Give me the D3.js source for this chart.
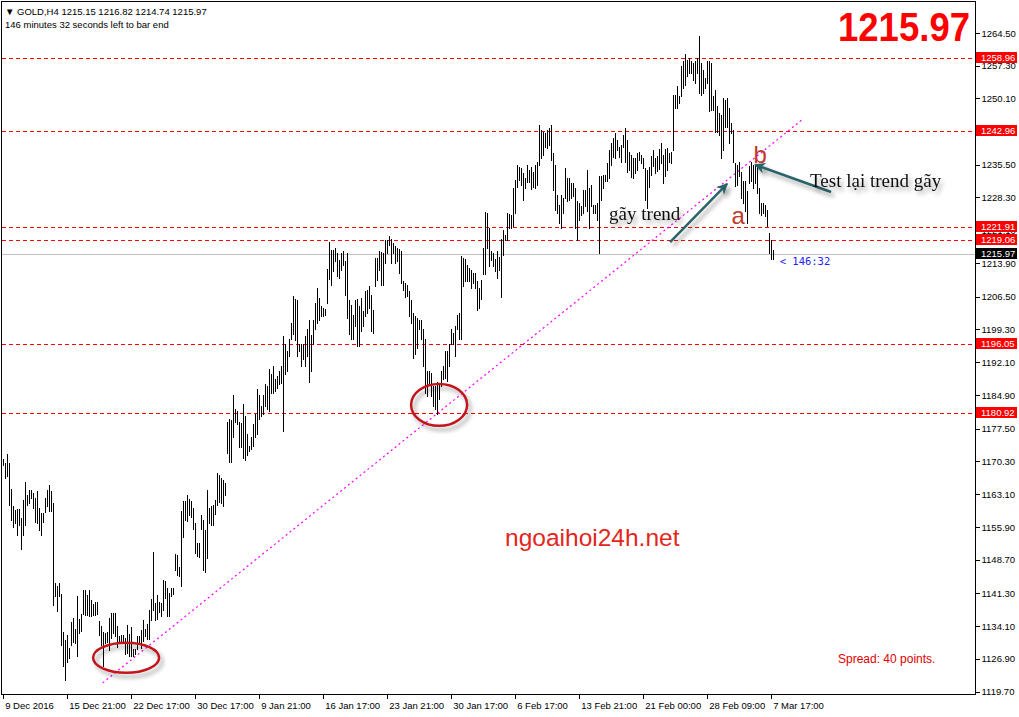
<!DOCTYPE html>
<html>
<head>
<meta charset="utf-8">
<script src="https://cdn.jsdelivr.net/npm/d3@7"></script>
<style>
  body { margin: 0; background: #fff; }
  svg { display: block; }
  .ax text, .hdr { font-family: "Liberation Sans", Arial, sans-serif; font-size: 9.5px; fill: #000; }
  .note { font-family: "Liberation Serif", "Times New Roman", serif; font-size: 19px; fill: #111; }
</style>
</head>
<body>
<svg width="1019" height="717"></svg>
<script>
// GOLD H4, high / low of every bar (oldest first)
var highs = [
  1170.7,1169.9,1171.8,1169.9,1164.2,1160.4,1159.7,1159.8,1159.8,1157.9,
  1161.9,1165.7,1162.8,1164.1,1164.1,1163.4,1162.3,1163.7,1160.1,1159.0,
  1159.0,1162.3,1163.9,1165.0,1163.7,1161.2,1143.5,1143.0,1143.5,1141.2,
  1132.8,1131.1,1132.2,1129.2,1134.9,1135.8,1133.5,1140.8,1135.7,1136.8,
  1142.1,1142.1,1141.0,1142.1,1139.8,1139.0,1139.4,1139.4,1135.2,1134.1,
  1132.8,1132.6,1132.8,1135.8,1136.9,1136.9,1136.9,1134.1,1131.9,1132.1,
  1132.2,1131.5,1134.3,1132.4,1133.9,1129.1,1129.1,1132.0,1132.0,1133.3,
  1135.5,1133.5,1134.6,1137.7,1140.1,1150.3,1139.2,1141.0,1139.4,1139.2,
  1144.3,1144.0,1142.5,1141.4,1142.5,1142.5,1149.9,1149.6,1147.0,1159.3,
  1161.5,1161.5,1163.0,1162.0,1161.5,1160.1,1156.8,1152.4,1152.4,1158.6,
  1157.5,1155.3,1163.9,1160.1,1160.4,1160.8,1161.9,1167.7,1167.4,1166.6,
  1166.3,1165.5,1178.9,1179.6,1179.3,1184.9,1181.7,1181.3,1178.9,1178.7,
  1182.8,1180.2,1176.2,1173.6,1175.7,1178.4,1180.6,1186.1,1184.9,1182.4,
  1184.9,1187.4,1186.8,1190.5,1189.4,1191.2,1188.3,1189.0,1190.1,1191.2,
  1197.9,1196.0,1194.5,1197.1,1200.7,1206.7,1206.0,1205.8,1196.0,1196.0,
  1196.0,1197.9,1199.3,1201.4,1198.1,1201.4,1205.1,1208.4,1206.2,1204.5,
  1204.0,1203.8,1212.6,1218.6,1216.8,1216.7,1217.2,1216.2,1214.6,1216.1,
  1216.5,1214.3,1216.1,1205.8,1204.7,1202.5,1205.8,1206.0,1204.4,1206.2,
  1203.3,1207.7,1208.0,1208.8,1206.9,1203.6,1215.0,1215.0,1216.5,1216.3,
  1216.1,1218.9,1219.0,1219.9,1219.2,1218.4,1217.6,1217.2,1217.0,1216.5,
  1209.9,1209.5,1209.1,1207.7,1205.8,1202.9,1202.2,1201.8,1201.4,1201.4,
  1199.3,1197.1,1190.1,1190.1,1189.7,1186.8,1186.8,1187.7,1187.5,1190.1,
  1191.2,1194.5,1194.5,1196.0,1199.3,1198.5,1200.0,1202.5,1202.9,1215.4,
  1215.0,1214.8,1213.5,1212.8,1212.4,1211.7,1211.7,1209.9,1208.5,1210.2,
  1217.2,1225.2,1224.9,1221.6,1216.5,1216.0,1214.8,1216.5,1215.2,1219.2,
  1221.2,1220.1,1224.9,1224.7,1224.5,1230.4,1232.2,1235.5,1235.1,1234.8,
  1233.7,1232.6,1235.5,1234.4,1235.1,1234.0,1235.5,1236.2,1244.3,1243.2,
  1242.8,1242.5,1243.2,1243.6,1244.3,1238.1,1235.5,1228.9,1226.7,1228.9,
  1228.2,1234.8,1232.6,1232.6,1231.5,1231.5,1230.4,1227.5,1227.1,1226.4,
  1230.0,1230.0,1234.4,1230.4,1231.1,1226.7,1226.7,1227.1,1233.1,1233.0,
  1233.3,1233.3,1235.9,1238.8,1240.3,1241.4,1242.5,1241.0,1239.5,1239.9,
  1242.1,1243.6,1241.0,1238.4,1237.7,1237.0,1237.0,1238.1,1238.4,1237.7,
  1237.0,1234.8,1234.4,1235.0,1237.5,1238.8,1237.0,1237.5,1239.0,1240.3,
  1237.7,1239.0,1239.2,1238.1,1238.4,1250.9,1250.9,1252.7,1250.5,1257.1,
  1258.2,1259.9,1258.6,1258.9,1258.2,1257.8,1258.2,1258.9,1263.7,1257.8,
  1256.4,1254.5,1258.2,1258.2,1257.8,1250.5,1252.0,1248.3,1246.9,1246.5,
  1250.2,1249.8,1250.2,1248.0,1244.7,1243.2,1235.9,1235.5,1236.2,1234.0,
  1231.9,1231.9,1229.7,1235.2,1236.2,1235.5,1235.2,1235.5,1230.4,1227.1,
  1227.1,1226.7,1225.6,1220.5,1219.0,1216.82
];
var lows = [
  1169.4,1166.6,1167.0,1160.8,1157.5,1155.9,1156.8,1154.1,1156.4,1151.1,
  1154.1,1156.4,1160.8,1161.2,1162.3,1160.1,1156.9,1156.8,1155.2,1154.2,
  1156.9,1159.1,1160.4,1159.3,1159.3,1138.7,1140.7,1137.4,1140.7,1129.9,
  1125.4,1122.3,1126.2,1127.1,1129.9,1130.6,1130.4,1127.5,1132.6,1133.0,
  1136.8,1136.6,1136.6,1136.3,1136.4,1136.5,1136.6,1136.8,1132.2,1129.9,
  1125.3,1130.3,1130.6,1128.9,1131.4,1132.6,1131.9,1129.5,1130.4,1130.8,
  1130.4,1128.0,1128.2,1127.5,1127.5,1127.5,1128.0,1129.1,1130.4,1129.3,
  1130.8,1131.9,1131.3,1131.3,1135.5,1137.6,1135.5,1135.7,1137.1,1136.3,
  1137.7,1140.3,1136.4,1136.4,1140.7,1141.2,1146.5,1145.4,1145.0,1143.0,
  1153.7,1157.5,1157.1,1158.6,1158.1,1155.5,1150.2,1149.5,1149.3,1155.5,
  1146.4,1145.9,1149.1,1156.8,1156.4,1156.2,1158.8,1160.6,1161.4,1161.2,
  1160.4,1162.8,1172.1,1170.1,1170.1,1175.7,1178.9,1178.4,1173.5,1173.5,
  1171.0,1170.5,1171.6,1172.5,1172.9,1173.6,1175.7,1176.4,1179.6,1180.2,
  1180.6,1182.4,1181.8,1181.3,1185.3,1185.3,1185.7,1186.4,1187.2,1187.5,
  1176.9,1189.4,1190.1,1193.4,1197.1,1198.2,1196.9,1193.4,1194.5,1191.2,
  1192.7,1191.3,1193.4,1187.7,1190.1,1196.0,1199.3,1200.7,1201.4,1202.2,
  1202.2,1202.5,1205.1,1210.4,1209.1,1212.1,1214.3,1211.0,1210.6,1212.3,
  1213.5,1206.9,1201.8,1198.2,1197.1,1197.1,1200.0,1195.7,1195.7,1198.9,
  1200.0,1202.2,1202.8,1204.0,1198.9,1198.5,1208.9,1210.2,1212.4,1209.1,
  1209.1,1213.9,1216.1,1217.9,1213.9,1216.1,1213.9,1214.3,1211.7,1209.5,
  1208.0,1206.4,1206.6,1202.2,1200.7,1193.0,1193.8,1195.2,1199.3,1197.1,
  1191.2,1185.3,1184.6,1187.5,1184.6,1182.4,1181.7,1180.8,1183.9,1186.8,
  1188.3,1188.6,1187.9,1191.2,1196.0,1196.0,1193.4,1199.3,1197.1,1197.1,
  1208.8,1209.9,1209.9,1209.9,1208.4,1209.5,1208.4,1203.5,1204.0,1205.9,
  1211.4,1211.4,1217.2,1213.2,1214.6,1213.2,1212.1,1210.5,1212.4,1206.4,
  1215.7,1219.0,1219.0,1221.6,1221.6,1222.0,1224.9,1230.7,1232.2,1231.1,
  1227.8,1230.4,1231.6,1231.6,1230.2,1230.7,1230.4,1231.1,1235.5,1237.0,
  1237.7,1239.5,1239.2,1239.9,1236.6,1230.0,1225.6,1224.9,1222.7,1221.6,
  1224.9,1228.2,1227.5,1227.8,1228.2,1228.6,1221.6,1219.0,1223.4,1224.5,
  1224.9,1226.4,1225.3,1221.6,1226.4,1224.9,1224.9,1223.4,1216.1,1227.8,
  1230.4,1231.9,1231.9,1232.6,1235.5,1237.3,1237.0,1238.8,1237.3,1236.2,
  1239.5,1236.2,1234.0,1234.4,1232.9,1232.6,1233.7,1234.4,1236.6,1235.9,
  1234.8,1227.8,1226.0,1230.5,1233.3,1235.2,1233.7,1234.1,1234.6,1235.9,
  1231.5,1233.0,1234.4,1236.2,1235.9,1238.8,1248.0,1248.0,1249.1,1250.5,
  1252.4,1253.1,1254.9,1255.6,1255.6,1254.2,1253.4,1255.6,1251.3,1250.9,
  1251.3,1252.4,1253.4,1247.2,1247.6,1247.6,1242.8,1242.8,1242.1,1237.0,
  1238.8,1243.9,1243.9,1240.3,1242.5,1236.2,1230.8,1231.1,1233.0,1228.2,
  1227.1,1225.3,1222.7,1231.5,1231.9,1230.4,1231.5,1229.3,1224.9,1224.5,
  1224.9,1224.2,1222.0,1216.1,1214.7,1214.74
];
var lastBar = { open: 1215.15, high: 1216.82, low: 1214.74, close: 1215.97 };

var priceTicks = [1264.50,1257.30,1250.10,1242.90,1235.50,1228.30,1221.10,1213.90,1206.50,
                  1199.30,1192.10,1184.90,1177.50,1170.30,1163.10,1155.90,1148.70,1141.30,
                  1134.10,1126.90,1119.70];
var timeTickBars = [0,32,64,96,128,160,192,224,256,288,320,352,384];
var timeTickLabels = ["9 Dec 2016","15 Dec 21:00","22 Dec 17:00","30 Dec 17:00","9 Jan 21:00",
                      "16 Jan 17:00","23 Jan 21:00","30 Jan 17:00","6 Feb 17:00","13 Feb 21:00",
                      "21 Feb 00:00","28 Feb 09:00","7 Mar 17:00"];
var levels = [1258.96, 1242.96, 1221.91, 1219.06, 1196.05, 1180.92];

// drawn objects, anchored as [bar index, price]
var trendLine = [[50, 1121.6], [400, 1245.5]];
var circles = [{ bar: 61.7, price: 1127.1, halfBars: 16.5, halfPrice: 3.3 },
               { bar: 218.2, price: 1182.7, halfBars: 14, halfPrice: 4.6 }];
var arrows = [[[333.7, 1218.5], [362.2, 1231.3]],
              [[414.2, 1229.5], [376.2, 1235.5]]];

var n = Math.min(highs.length, lows.length);

var svg = d3.select("svg"),
    plotR = 975.5, plotB = 694.5;

var x = d3.scaleLinear().domain([0, 385]).range([2.7, 772.7]);
var y = d3.scaleLinear().domain([1119.7, 1264.5]).range([691.5, 32.8]);

var defs = svg.append("defs");
var sh = defs.append("filter").attr("id", "shadow")
    .attr("x", "-30%").attr("y", "-30%").attr("width", "160%").attr("height", "160%");
sh.append("feGaussianBlur").attr("in", "SourceAlpha").attr("stdDeviation", 2.2).attr("result", "b");
sh.append("feOffset").attr("in", "b").attr("dx", 3).attr("dy", 4).attr("result", "o");
sh.append("feComponentTransfer").attr("in", "o").attr("result", "s")
  .append("feFuncA").attr("type", "linear").attr("slope", 0.35);
var mg = sh.append("feMerge");
mg.append("feMergeNode").attr("in", "s");
mg.append("feMergeNode").attr("in", "SourceGraphic");

defs.append("marker").attr("id", "head")
    .attr("viewBox", "0 0 10 10").attr("refX", 9).attr("refY", 5)
    .attr("markerWidth", 4.5).attr("markerHeight", 4.5).attr("orient", "auto")
  .append("path").attr("d", "M0,0 L10,5 L0,10 L3,5 Z").attr("fill", "#2c6467");

var g = svg.append("g");

// horizontal levels
g.selectAll(".lvl").data(levels).enter().append("line")
  .attr("x1", 2).attr("x2", plotR)
  .attr("y1", function(d) { return Math.round(y(d)) + 0.5; })
  .attr("y2", function(d) { return Math.round(y(d)) + 0.5; })
  .attr("stroke", "#ff0000").attr("stroke-dasharray", "4,3");

// bid line
g.append("line")
  .attr("x1", 2).attr("x2", plotR)
  .attr("y1", Math.round(y(lastBar.close)) + 0.5).attr("y2", Math.round(y(lastBar.close)) + 0.5)
  .attr("stroke", "#c0c0c0");

// trend line
g.append("line")
  .attr("x1", x(trendLine[0][0])).attr("y1", y(trendLine[0][1]))
  .attr("x2", x(trendLine[1][0])).attr("y2", y(trendLine[1][1]))
  .attr("stroke", "#ff00ff").attr("stroke-width", 1.2).attr("stroke-dasharray", "2,3");

// bars
g.selectAll(".bar").data(d3.range(n)).enter().append("line")
  .attr("class", "bar")
  .attr("x1", function(i) { return Math.round(x(i)) + 0.5; })
  .attr("x2", function(i) { return Math.round(x(i)) + 0.5; })
  .attr("y1", function(i) { return Math.round(y(highs[i])); })
  .attr("y2", function(i) { return Math.round(y(lows[i])) + 1; })
  .attr("stroke", "#000").attr("stroke-width", 1).attr("shape-rendering", "crispEdges");

// ellipses
g.selectAll(".circ").data(circles).enter().append("ellipse")
  .attr("cx", function(d) { return x(d.bar); })
  .attr("cy", function(d) { return y(d.price); })
  .attr("rx", function(d) { return x(d.bar + d.halfBars) - x(d.bar); })
  .attr("ry", function(d) { return y(d.price - d.halfPrice) - y(d.price); })
  .attr("fill", "none").attr("stroke", "#c0141c").attr("stroke-width", 2.5)
  .attr("filter", "url(#shadow)");

// arrows
g.selectAll(".arr").data(arrows).enter().append("line")
  .attr("x1", function(d) { return x(d[0][0]); }).attr("y1", function(d) { return y(d[0][1]); })
  .attr("x2", function(d) { return x(d[1][0]); }).attr("y2", function(d) { return y(d[1][1]); })
  .attr("stroke", "#2c6467").attr("stroke-width", 2.5)
  .attr("marker-end", "url(#head)").attr("filter", "url(#shadow)");

// notes
g.append("text").attr("class", "note").attr("filter", "url(#shadow)")
  .attr("x", x(303.2)).attr("y", y(1223.3)).text("gãy trend");
g.append("text").attr("class", "note").attr("filter", "url(#shadow)")
  .attr("x", x(403.7)).attr("y", y(1230.6)).text("Test lại trend gãy");
g.append("text").attr("x", x(367.7)).attr("y", y(1222.5)).attr("text-anchor", "middle")
  .style("font", "24px 'Liberation Sans', Arial, sans-serif").attr("fill", "#c0392b").text("a");
g.append("text").attr("x", x(378.7)).attr("y", y(1235.8)).attr("text-anchor", "middle")
  .style("font", "24px 'Liberation Sans', Arial, sans-serif").attr("fill", "#c0392b").text("b");
g.append("text").attr("x", x(251.2)).attr("y", y(1151.7))
  .style("font", "24.5px 'Liberation Sans', Arial, sans-serif").attr("fill", "#e3261c").text("ngoaihoi24h.net");

// countdown next to last bar
g.append("text").attr("x", x(n - 1) + 7).attr("y", y(lastBar.close) + 11)
  .style("font", "10.5px 'DejaVu Sans Mono', monospace").attr("fill", "#2222ff").text("< 146:32");

// frame
svg.append("path")
  .attr("d", "M1.5,1.5 H" + plotR + " V" + plotB + " H1.5 Z")
  .attr("fill", "none").attr("stroke", "#000").attr("shape-rendering", "crispEdges");

// price axis
var ya = svg.append("g").attr("class", "ax").attr("transform", "translate(" + plotR + ",0)")
  .call(d3.axisRight(y).tickValues(priceTicks).tickSize(4).tickPadding(2)
        .tickFormat(d3.format(".2f")));
ya.select(".domain").remove();
ya.selectAll("line").attr("shape-rendering", "crispEdges");
ya.selectAll("text").attr("dy", "0.34em");

// time axis
var xa = svg.append("g").attr("class", "ax").attr("transform", "translate(0," + plotB + ")")
  .call(d3.axisBottom(x).tickValues(timeTickBars).tickSize(4)
        .tickFormat(function(d, i) { return timeTickLabels[i]; }));
xa.select(".domain").remove();
xa.selectAll("line").attr("shape-rendering", "crispEdges");
xa.selectAll("text").attr("text-anchor", "start").attr("x", 2).attr("y", 8).attr("dy", "0.71em");

// level tags on price axis
var tags = levels.map(function(v) { return { v: v, bg: "#ff0000" }; })
  .concat([{ v: lastBar.close, bg: "#000" }]);
var tg = svg.selectAll(".tag").data(tags).enter().append("g")
  .attr("transform", function(d) { return "translate(976," + Math.round(y(d.v)) + ")"; });
tg.append("rect").attr("x", 0).attr("y", -6).attr("width", 41).attr("height", 11)
  .attr("fill", function(d) { return d.bg; });
tg.append("text").attr("x", 5).attr("y", 3)
  .style("font", "9.5px 'Liberation Sans', Arial, sans-serif").attr("fill", "#fff")
  .text(function(d) { return d3.format(".2f")(d.v); });

// header
svg.append("text").attr("class", "hdr").attr("x", 5).attr("y", 15)
  .text("\u25BC GOLD,H4  " + [lastBar.open, lastBar.high, lastBar.low, lastBar.close]
        .map(d3.format(".2f")).join(" "));
svg.append("text").attr("class", "hdr").attr("x", 5).attr("y", 28)
  .text("146 minutes 32 seconds left to bar end");

// big price
svg.append("text").attr("x", 970).attr("y", 41).attr("text-anchor", "end")
  .attr("textLength", 132).attr("lengthAdjust", "spacingAndGlyphs")
  .style("font", "bold 40px 'Liberation Sans', Arial, sans-serif").attr("fill", "#ff0000")
  .text(d3.format(".2f")(lastBar.close));

// spread
svg.append("text").attr("x", 838).attr("y", 663)
  .style("font", "12px 'Liberation Sans', Arial, sans-serif").attr("fill", "#e00000")
  .text("Spread: 40 points.");
</script>
</body>
</html>
